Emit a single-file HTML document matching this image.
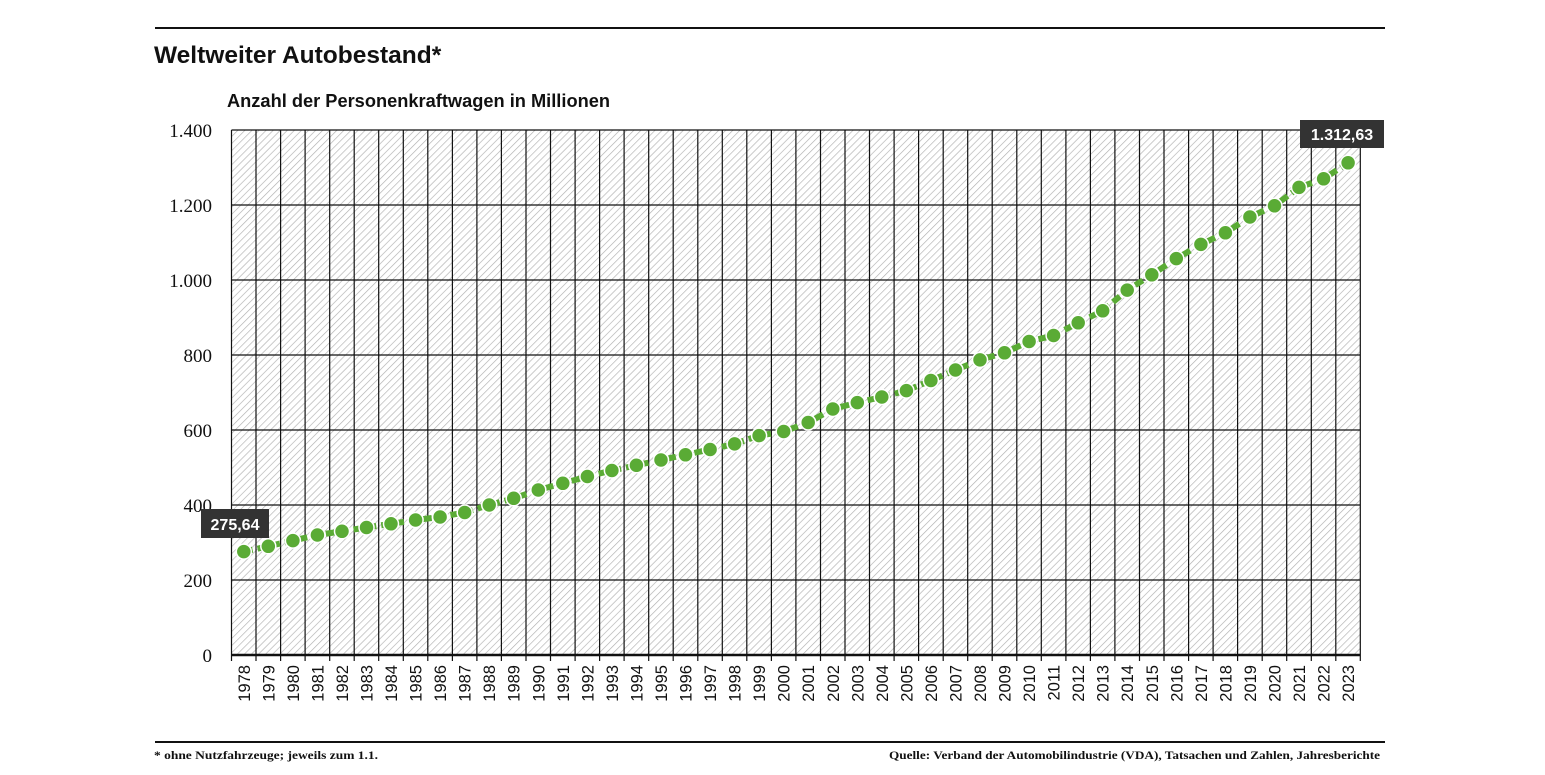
<!DOCTYPE html>
<html><head><meta charset="utf-8"><style>
body{margin:0;background:#fff;width:1545px;height:775px;overflow:hidden}
</style></head><body>
<svg width="1545" height="775" xmlns="http://www.w3.org/2000/svg" style="display:block">
<defs>
<pattern id="h" width="5" height="5" patternUnits="userSpaceOnUse" patternTransform="rotate(45)">
<rect width="5" height="5" fill="#fff"/><line x1="0" y1="0" x2="0" y2="5" stroke="#b0b0b0" stroke-width="1.3"/>
</pattern>
</defs>
<line x1="155" y1="28" x2="1385" y2="28" stroke="#111" stroke-width="2"/>
<text x="154" y="63" font-family="Liberation Sans, sans-serif" font-weight="bold" font-size="24.5" fill="#111">Weltweiter Autobestand*</text>
<text x="227" y="107" font-family="Liberation Sans, sans-serif" font-weight="bold" font-size="18" fill="#111" textLength="383" lengthAdjust="spacingAndGlyphs">Anzahl der Personenkraftwagen in Millionen</text>
<rect x="231.5" y="130" width="1129" height="525" fill="url(#h)"/>
<g stroke="#111" stroke-width="1.2">
<line x1="231.5" y1="130" x2="1360.5" y2="130"/>
<line x1="231.5" y1="205" x2="1360.5" y2="205"/>
<line x1="231.5" y1="280" x2="1360.5" y2="280"/>
<line x1="231.5" y1="355" x2="1360.5" y2="355"/>
<line x1="231.5" y1="430" x2="1360.5" y2="430"/>
<line x1="231.5" y1="505" x2="1360.5" y2="505"/>
<line x1="231.5" y1="580" x2="1360.5" y2="580"/>
</g>
<g stroke="#111" stroke-width="1.2">
<line x1="231.5" y1="130" x2="231.5" y2="661"/><line x1="256.0" y1="130" x2="256.0" y2="661"/><line x1="280.6" y1="130" x2="280.6" y2="661"/><line x1="305.1" y1="130" x2="305.1" y2="661"/><line x1="329.7" y1="130" x2="329.7" y2="661"/><line x1="354.2" y1="130" x2="354.2" y2="661"/><line x1="378.7" y1="130" x2="378.7" y2="661"/><line x1="403.3" y1="130" x2="403.3" y2="661"/><line x1="427.8" y1="130" x2="427.8" y2="661"/><line x1="452.4" y1="130" x2="452.4" y2="661"/><line x1="476.9" y1="130" x2="476.9" y2="661"/><line x1="501.4" y1="130" x2="501.4" y2="661"/><line x1="526.0" y1="130" x2="526.0" y2="661"/><line x1="550.5" y1="130" x2="550.5" y2="661"/><line x1="575.1" y1="130" x2="575.1" y2="661"/><line x1="599.6" y1="130" x2="599.6" y2="661"/><line x1="624.1" y1="130" x2="624.1" y2="661"/><line x1="648.7" y1="130" x2="648.7" y2="661"/><line x1="673.2" y1="130" x2="673.2" y2="661"/><line x1="697.8" y1="130" x2="697.8" y2="661"/><line x1="722.3" y1="130" x2="722.3" y2="661"/><line x1="746.8" y1="130" x2="746.8" y2="661"/><line x1="771.4" y1="130" x2="771.4" y2="661"/><line x1="795.9" y1="130" x2="795.9" y2="661"/><line x1="820.5" y1="130" x2="820.5" y2="661"/><line x1="845.0" y1="130" x2="845.0" y2="661"/><line x1="869.5" y1="130" x2="869.5" y2="661"/><line x1="894.1" y1="130" x2="894.1" y2="661"/><line x1="918.6" y1="130" x2="918.6" y2="661"/><line x1="943.2" y1="130" x2="943.2" y2="661"/><line x1="967.7" y1="130" x2="967.7" y2="661"/><line x1="992.2" y1="130" x2="992.2" y2="661"/><line x1="1016.8" y1="130" x2="1016.8" y2="661"/><line x1="1041.3" y1="130" x2="1041.3" y2="661"/><line x1="1065.9" y1="130" x2="1065.9" y2="661"/><line x1="1090.4" y1="130" x2="1090.4" y2="661"/><line x1="1114.9" y1="130" x2="1114.9" y2="661"/><line x1="1139.5" y1="130" x2="1139.5" y2="661"/><line x1="1164.0" y1="130" x2="1164.0" y2="661"/><line x1="1188.6" y1="130" x2="1188.6" y2="661"/><line x1="1213.1" y1="130" x2="1213.1" y2="661"/><line x1="1237.6" y1="130" x2="1237.6" y2="661"/><line x1="1262.2" y1="130" x2="1262.2" y2="661"/><line x1="1286.7" y1="130" x2="1286.7" y2="661"/><line x1="1311.3" y1="130" x2="1311.3" y2="661"/><line x1="1335.8" y1="130" x2="1335.8" y2="661"/><line x1="1360.3" y1="130" x2="1360.3" y2="661"/>
</g>
<line x1="231.5" y1="655" x2="1360.5" y2="655" stroke="#111" stroke-width="2.5"/>
<g font-family="Liberation Serif, serif" font-size="19" fill="#111" text-anchor="end">
<text x="212" y="137">1.400</text><text x="212" y="212">1.200</text><text x="212" y="287">1.000</text><text x="212" y="362">800</text><text x="212" y="437">600</text><text x="212" y="512">400</text><text x="212" y="587">200</text><text x="212" y="662">0</text>
</g>
<g font-family="Liberation Sans, sans-serif" font-size="16.5" fill="#111" text-anchor="end">
<text transform="translate(249.8,665) rotate(-90)">1978</text><text transform="translate(274.3,665) rotate(-90)">1979</text><text transform="translate(298.9,665) rotate(-90)">1980</text><text transform="translate(323.4,665) rotate(-90)">1981</text><text transform="translate(348.0,665) rotate(-90)">1982</text><text transform="translate(372.5,665) rotate(-90)">1983</text><text transform="translate(397.0,665) rotate(-90)">1984</text><text transform="translate(421.6,665) rotate(-90)">1985</text><text transform="translate(446.1,665) rotate(-90)">1986</text><text transform="translate(470.7,665) rotate(-90)">1987</text><text transform="translate(495.2,665) rotate(-90)">1988</text><text transform="translate(519.7,665) rotate(-90)">1989</text><text transform="translate(544.3,665) rotate(-90)">1990</text><text transform="translate(568.8,665) rotate(-90)">1991</text><text transform="translate(593.4,665) rotate(-90)">1992</text><text transform="translate(617.9,665) rotate(-90)">1993</text><text transform="translate(642.4,665) rotate(-90)">1994</text><text transform="translate(667.0,665) rotate(-90)">1995</text><text transform="translate(691.5,665) rotate(-90)">1996</text><text transform="translate(716.1,665) rotate(-90)">1997</text><text transform="translate(740.6,665) rotate(-90)">1998</text><text transform="translate(765.1,665) rotate(-90)">1999</text><text transform="translate(789.7,665) rotate(-90)">2000</text><text transform="translate(814.2,665) rotate(-90)">2001</text><text transform="translate(838.8,665) rotate(-90)">2002</text><text transform="translate(863.3,665) rotate(-90)">2003</text><text transform="translate(887.8,665) rotate(-90)">2004</text><text transform="translate(912.4,665) rotate(-90)">2005</text><text transform="translate(936.9,665) rotate(-90)">2006</text><text transform="translate(961.5,665) rotate(-90)">2007</text><text transform="translate(986.0,665) rotate(-90)">2008</text><text transform="translate(1010.5,665) rotate(-90)">2009</text><text transform="translate(1035.1,665) rotate(-90)">2010</text><text transform="translate(1059.6,665) rotate(-90)">2011</text><text transform="translate(1084.2,665) rotate(-90)">2012</text><text transform="translate(1108.7,665) rotate(-90)">2013</text><text transform="translate(1133.2,665) rotate(-90)">2014</text><text transform="translate(1157.8,665) rotate(-90)">2015</text><text transform="translate(1182.3,665) rotate(-90)">2016</text><text transform="translate(1206.9,665) rotate(-90)">2017</text><text transform="translate(1231.4,665) rotate(-90)">2018</text><text transform="translate(1255.9,665) rotate(-90)">2019</text><text transform="translate(1280.5,665) rotate(-90)">2020</text><text transform="translate(1305.0,665) rotate(-90)">2021</text><text transform="translate(1329.6,665) rotate(-90)">2022</text><text transform="translate(1354.1,665) rotate(-90)">2023</text>
</g>
<polyline fill="none" stroke="#5aab35" stroke-width="6" stroke-dasharray="9,5" points="243.8,551.6 268.3,546.3 292.9,540.6 317.4,535 342.0,531.3 366.5,527.5 391.0,523.8 415.6,520 440.1,517 464.7,512.5 489.2,505 513.7,498.3 538.3,490 562.8,483.3 587.4,476.5 611.9,470.5 636.4,465.3 661.0,460 685.5,454.8 710.1,449.5 734.6,443.9 759.1,435.6 783.7,431.5 808.2,422.5 832.8,409 857.3,402.6 881.8,397 906.4,390.6 930.9,380.5 955.5,370 980.0,359.9 1004.5,352.8 1029.1,341.5 1053.6,335.5 1078.2,322.8 1102.7,310.8 1127.2,290.1 1151.8,274.8 1176.3,258.6 1200.9,244.4 1225.4,232.8 1249.9,217 1274.5,205.8 1299.0,187.4 1323.6,178.8 1348.1,162.8"/>
<g fill="#5aab35" stroke="#fff" stroke-width="1.5">
<circle cx="243.8" cy="551.6" r="7.5"/><circle cx="268.3" cy="546.3" r="7.5"/><circle cx="292.9" cy="540.6" r="7.5"/><circle cx="317.4" cy="535" r="7.5"/><circle cx="342.0" cy="531.3" r="7.5"/><circle cx="366.5" cy="527.5" r="7.5"/><circle cx="391.0" cy="523.8" r="7.5"/><circle cx="415.6" cy="520" r="7.5"/><circle cx="440.1" cy="517" r="7.5"/><circle cx="464.7" cy="512.5" r="7.5"/><circle cx="489.2" cy="505" r="7.5"/><circle cx="513.7" cy="498.3" r="7.5"/><circle cx="538.3" cy="490" r="7.5"/><circle cx="562.8" cy="483.3" r="7.5"/><circle cx="587.4" cy="476.5" r="7.5"/><circle cx="611.9" cy="470.5" r="7.5"/><circle cx="636.4" cy="465.3" r="7.5"/><circle cx="661.0" cy="460" r="7.5"/><circle cx="685.5" cy="454.8" r="7.5"/><circle cx="710.1" cy="449.5" r="7.5"/><circle cx="734.6" cy="443.9" r="7.5"/><circle cx="759.1" cy="435.6" r="7.5"/><circle cx="783.7" cy="431.5" r="7.5"/><circle cx="808.2" cy="422.5" r="7.5"/><circle cx="832.8" cy="409" r="7.5"/><circle cx="857.3" cy="402.6" r="7.5"/><circle cx="881.8" cy="397" r="7.5"/><circle cx="906.4" cy="390.6" r="7.5"/><circle cx="930.9" cy="380.5" r="7.5"/><circle cx="955.5" cy="370" r="7.5"/><circle cx="980.0" cy="359.9" r="7.5"/><circle cx="1004.5" cy="352.8" r="7.5"/><circle cx="1029.1" cy="341.5" r="7.5"/><circle cx="1053.6" cy="335.5" r="7.5"/><circle cx="1078.2" cy="322.8" r="7.5"/><circle cx="1102.7" cy="310.8" r="7.5"/><circle cx="1127.2" cy="290.1" r="7.5"/><circle cx="1151.8" cy="274.8" r="7.5"/><circle cx="1176.3" cy="258.6" r="7.5"/><circle cx="1200.9" cy="244.4" r="7.5"/><circle cx="1225.4" cy="232.8" r="7.5"/><circle cx="1249.9" cy="217" r="7.5"/><circle cx="1274.5" cy="205.8" r="7.5"/><circle cx="1299.0" cy="187.4" r="7.5"/><circle cx="1323.6" cy="178.8" r="7.5"/><circle cx="1348.1" cy="162.8" r="7.5"/>
</g>
<rect x="201" y="509" width="68" height="29" fill="#333"/>
<text x="235" y="530" text-anchor="middle" font-family="Liberation Sans, sans-serif" font-weight="bold" font-size="16" fill="#fff">275,64</text>
<rect x="1300" y="120" width="84" height="28" fill="#333"/>
<text x="1342" y="140" text-anchor="middle" font-family="Liberation Sans, sans-serif" font-weight="bold" font-size="16" fill="#fff">1.312,63</text>
<line x1="155" y1="742" x2="1385" y2="742" stroke="#111" stroke-width="2"/>
<text x="154" y="759" font-family="Liberation Serif, serif" font-weight="bold" font-size="12" fill="#111" textLength="224" lengthAdjust="spacingAndGlyphs">* ohne Nutzfahrzeuge; jeweils zum 1.1.</text>
<text x="889" y="759" font-family="Liberation Serif, serif" font-weight="bold" font-size="12" fill="#111" textLength="491" lengthAdjust="spacingAndGlyphs">Quelle: Verband der Automobilindustrie (VDA), Tatsachen und Zahlen, Jahresberichte</text>
</svg>
</body></html>
